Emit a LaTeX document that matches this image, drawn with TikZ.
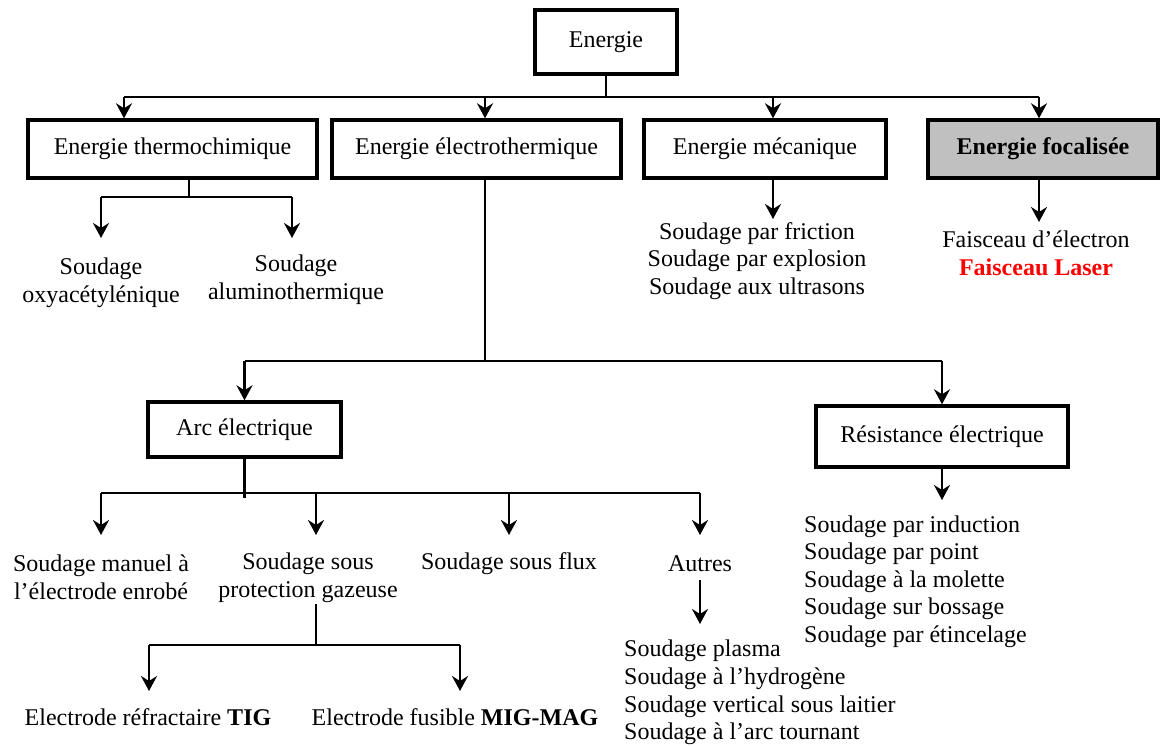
\documentclass[tikz,border=0pt]{standalone}
\usepackage{fontspec}
\setmainfont{Liberation Serif}
\usetikzlibrary{arrows.meta,calc}
\definecolor{boxgray}{RGB}{192,192,192}
\definecolor{laserred}{RGB}{255,0,0}
\newcommand{\fsz}{\fontsize{24}{27.6}\selectfont}
\begin{document}
\begin{tikzpicture}[x=1pt,y=-1pt,
  box/.style={draw, line width=3.4pt, inner sep=0pt, font=\fsz},
  txt/.style={inner sep=0pt, align=center, font=\fsz},
  ltxt/.style={inner sep=0pt, align=left, font=\fsz},
  ln/.style={line width=2.4pt},
  arr/.style={line width=2.4pt, -{Stealth[length=15pt,width=16pt,inset=5pt]}}]
\useasboundingbox (0,0) rectangle (1160,747);

% boxes
\node[box, minimum width=142pt, minimum height=64pt] (E) at (606,42) {Energie};
\node[box, minimum width=289pt, minimum height=58pt] (thermo) at (172.5,149) {Energie thermochimique};
\node[box, minimum width=289pt, minimum height=58pt] (electro) at (476.5,149) {Energie électrothermique};
\node[box, minimum width=242pt, minimum height=58pt] (meca) at (765,149) {Energie mécanique};
\node[box, fill=boxgray, minimum width=230pt, minimum height=58pt] (foc) at (1043,149) {\bfseries Energie focalisée};
\node[box, minimum width=193pt, minimum height=55pt] (arc) at (244.5,429.5) {Arc électrique};
\node[box, minimum width=252pt, minimum height=61pt] (res) at (942,436.5) {Résistance électrique};

% texts
\node[txt] (oxy) at (101,283) {Soudage\\oxyacétylénique};
\node[txt] (alu) at (296,279.5) {Soudage\\aluminothermique};
\node[txt] (mecl) at (757,261) {Soudage par friction\\Soudage par explosion\\Soudage aux ultrasons};
\node[txt] (focl) at (1036,253) {Faisceau d’électron\\{\bfseries\color{laserred}Faisceau Laser}};
\node[txt] (sma) at (101,577.5) {Soudage manuel à\\l’électrode enrobé};
\node[txt] (spg) at (308,577.5) {Soudage sous\\protection gazeuse};
\node[txt] (ssf) at (509,564) {Soudage sous flux};
\node[txt] (aut) at (700,564) {Autres};
\node[txt] (tig) at (148,717) {Electrode réfractaire \textbf{TIG}};
\node[txt] (mig) at (455,717) {Electrode fusible \textbf{MIG-MAG}};
\node[ltxt, anchor=west] (resl) at (804,581.5) {Soudage par induction\\Soudage par point\\Soudage à la molette\\Soudage sur bossage\\Soudage par étincelage};
\node[ltxt, anchor=west] (autl) at (624,692.5) {Soudage plasma\\Soudage à l’hydrogène\\Soudage vertical sous laitier\\Soudage à l’arc tournant};

% level 1
\coordinate (b1L) at (124,97);
\coordinate (b1R) at (1039,97);
\draw[ln] (E.south) -- (E.south |- b1L);
\draw[ln] (b1L) -- (b1R);
\draw[arr] (b1L) -- (b1L |- thermo.north);
\draw[arr] ([xshift=8.5pt]electro.north |- b1L) -- ([xshift=8.5pt]electro.north);
\draw[arr] ([xshift=8pt]meca.north |- b1L) -- ([xshift=8pt]meca.north);
\draw[arr] (b1R) -- (b1R |- foc.north);

% thermochimique
\coordinate (t1) at (189,197);
\draw[ln] ([xshift=16.5pt]thermo.south) -- (t1);
\draw[ln] (oxy.north |- t1) -- ([xshift=-4pt]alu.north |- t1);
\draw[arr] (oxy.north |- t1) -- (oxy.north |- 0,238);
\draw[arr] ([xshift=-4pt]alu.north |- t1) -- ([xshift=-4pt]alu.north |- 0,238);

% mecanique, focalisee
\draw[arr] ([xshift=8pt]meca.south) -- ([xshift=8pt]meca.south |- 0,219);
\draw[arr] ([xshift=-4pt]foc.south) -- ([xshift=-4pt]foc.south |- 0,222);

% electrothermique
\coordinate (e1) at (485,361);
\draw[ln] ([xshift=8.5pt]electro.south) -- (e1);
\draw[ln] (arc.north |- e1) -- (res.north |- e1);
\draw[arr] (arc.north |- e1) -- (arc.north);
\draw[arr] (res.north |- e1) -- (res.north);

% arc electrique
\coordinate (a1) at (244.5,493);
\draw[ln] (arc.south) -- ([yshift=-5pt]a1);
\draw[ln] (sma.north |- a1) -- (aut.north |- a1);
\draw[arr] (sma.north |- a1) -- (sma.north |- 0,535);
\draw[arr] ([xshift=8pt]spg.north |- a1) -- ([xshift=8pt]spg.north |- 0,535);
\draw[arr] (ssf.north |- a1) -- (ssf.north |- 0,535);
\draw[arr] (aut.north |- a1) -- (aut.north |- 0,535);
\draw[arr] ([yshift=-8pt]aut.south) -- (aut.south |- 0,624);

% sous protection gazeuse
\coordinate (g1) at (316,645);
\draw[ln] ([xshift=8pt,yshift=-2pt]spg.south) -- (g1);
\draw[ln] ([xshift=1pt]tig.north |- g1) -- ([xshift=5pt]mig.north |- g1);
\draw[arr] ([xshift=1pt]tig.north |- g1) -- ([xshift=1pt]tig.north |- 0,691);
\draw[arr] ([xshift=5pt]mig.north |- g1) -- ([xshift=5pt]mig.north |- 0,691);

% resistance
\draw[arr] (res.south) -- (res.south |- 0,500);
\end{tikzpicture}
\end{document}
